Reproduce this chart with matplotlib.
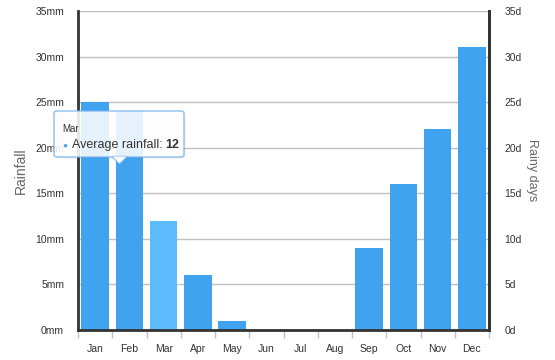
import matplotlib
matplotlib.use('Agg')
import matplotlib.pyplot as plt
from matplotlib.patches import FancyBboxPatch, Polygon
import numpy as np

# === Data ===
months = ['Jan', 'Feb', 'Mar', 'Apr', 'May', 'Jun', 'Jul', 'Aug', 'Sep', 'Oct', 'Nov', 'Dec']
rainfall = [25, 24, 12, 6, 1, 0, 0, 0, 9, 16, 22, 31]
ticks = [0, 5, 10, 15, 20, 25, 30, 35]
hover_month = 'Mar'

BAR = '#3fa3ef'
BAR_HOVER = '#5cbcfb'
W, H = 555, 360

plt.rcParams['font.family'] = ['Liberation Sans', 'DejaVu Sans']

fig = plt.figure(figsize=(W / 100, H / 100), dpi=100)
ax = fig.add_axes([78 / W, 30 / H, 411 / W, 319 / H])

x = np.arange(len(months))
colors = [BAR_HOVER if m == hover_month else BAR for m in months]
ax.bar(x, rainfall, width=0.8, color=colors, zorder=2)

ax.set_xlim(-0.5, len(months) - 0.5)
ax.set_ylim(0, 35)
ax.set_yticks(ticks)
ax.set_yticklabels([f'{t}mm' for t in ticks], fontsize=7.5, color='#333333')
ax.grid(axis='y', color='#c0c0c0', linewidth=1, zorder=0)

ax.set_xticks(x)
ax.set_xticklabels(months, fontsize=7.5, color='#333333')
ax.set_xticks(np.arange(-0.5, len(months)), minor=True)
ax.tick_params(axis='x', which='major', length=0, pad=10)
ax.tick_params(axis='x', which='minor', length=6, color='#c0c0c0', width=1)
ax.tick_params(axis='y', length=0, pad=10)

for s in ['left', 'right', 'bottom']:
    ax.spines[s].set_color('#333333')
    ax.spines[s].set_linewidth(2)
ax.spines['top'].set_visible(False)
ax.set_ylabel('Rainfall', fontsize=10, color='#666666', labelpad=5)

ax2 = ax.twinx()
ax2.set_ylim(0, 35)
ax2.set_yticks(ticks)
ax2.set_yticklabels([f'{t}d' for t in ticks], fontsize=7.5, color='#333333')
ax2.tick_params(axis='y', length=0, pad=11)
for s in ['left', 'top', 'bottom']:
    ax2.spines[s].set_visible(False)
ax2.spines['right'].set_color('#333333')
ax2.spines['right'].set_linewidth(2)
ax2.set_ylabel('Rainy days', fontsize=9, color='#666666', rotation=270, labelpad=12)

# === Tooltip ===
def px(xp, yp):
    return (xp / W, 1 - yp / H)

x0, y0 = px(54, 157)
x1, y1 = px(184, 111)
shadow = FancyBboxPatch((x0 + 1.5 / W, y0 - 1.5 / H), x1 - x0, y1 - y0,
                        boxstyle='round,pad=0,rounding_size=0.006',
                        transform=fig.transFigure, facecolor='#000000', alpha=0.06,
                        edgecolor='none', zorder=9)
fig.add_artist(shadow)
box = FancyBboxPatch((x0, y0), x1 - x0, y1 - y0,
                     boxstyle='round,pad=0,rounding_size=0.006',
                     transform=fig.transFigure, facecolor='white', alpha=0.88,
                     edgecolor='#7cb5ec', linewidth=1, zorder=10)
fig.add_artist(box)
tri = Polygon([px(112, 156.5), px(127, 156.5), px(119.5, 164)], closed=True,
              transform=fig.transFigure, facecolor='white', alpha=0.88,
              edgecolor='#7cb5ec', linewidth=1, zorder=10)
fig.add_artist(tri)
fig.add_artist(Polygon([px(112.6, 156.5), px(126.4, 156.5), px(119.5, 163)], closed=True,
                       transform=fig.transFigure, facecolor='white', edgecolor='none',
                       alpha=0.88, zorder=11))

fig.text(*px(62, 129), hover_month, fontsize=7, color='#333333', va='center', zorder=12)
fig.text(*px(65, 146), '\u25cf', fontsize=6, color='#3fa3ef', ha='center', va='center', zorder=12)
label = fig.text(*px(72, 145), 'Average rainfall:', fontsize=9, color='#333333',
                 va='center', zorder=12)
renderer = fig.canvas.get_renderer()
bb = label.get_window_extent(renderer=renderer)
fig.text((bb.x1 + 3) / W, 1 - 145 / H, str(rainfall[months.index(hover_month)]),
         fontsize=9, fontweight='bold', color='#333333', va='center', zorder=12)

fig.savefig('out.png', dpi=100)
